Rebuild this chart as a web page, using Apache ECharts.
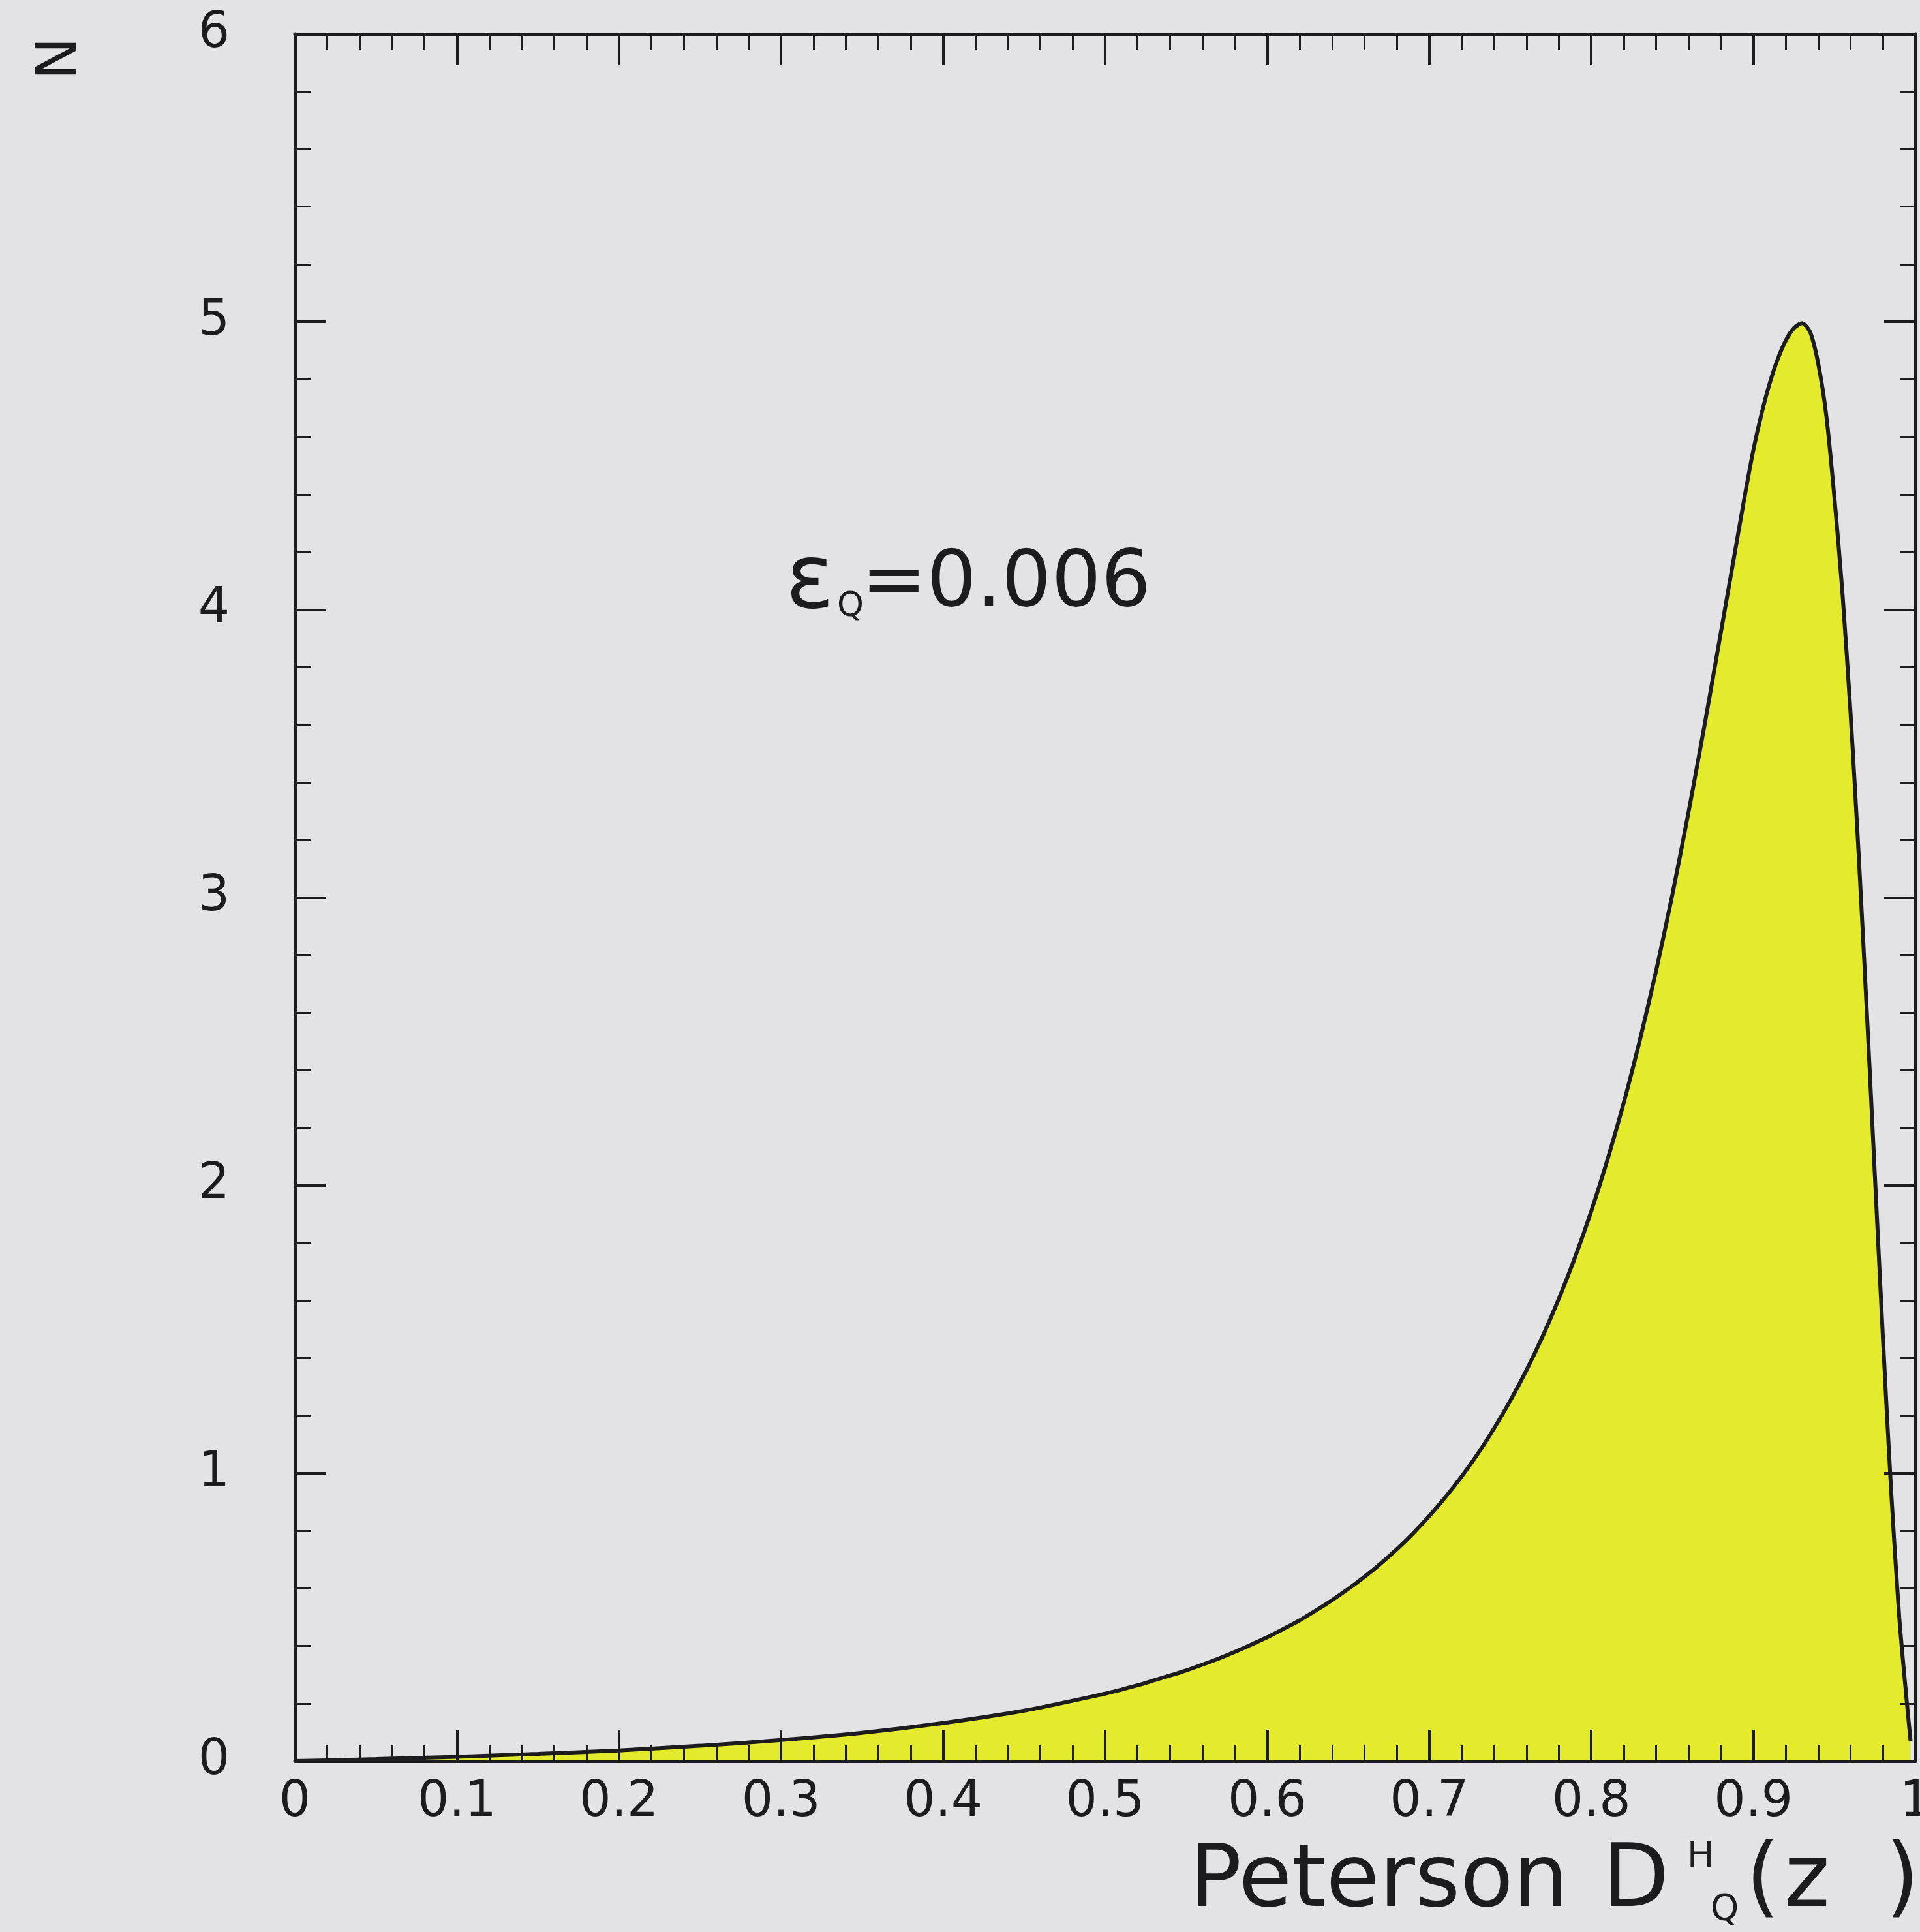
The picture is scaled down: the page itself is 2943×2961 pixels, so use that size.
<!DOCTYPE html>
<html>
<head>
<meta charset="utf-8">
<title>Peterson fragmentation function</title>
<script src="https://cdn.jsdelivr.net/npm/echarts/dist/echarts.min.js"></script>
<style>
  html, body { margin: 0; padding: 0; background: #e3e3e5; overflow: hidden; }
  #chart { width: 2943px; height: 2961px; }
</style>
</head>
<body>
<div id="chart"></div>
<script>
// Peterson fragmentation function D_Q^H(z), eps_Q = 0.006
const zValues = [0, 0.02, 0.05, 0.1, 0.15, 0.2, 0.25, 0.3, 0.35, 0.4, 0.45, 0.5,
  0.51, 0.52, 0.53, 0.54, 0.55, 0.56, 0.57, 0.58, 0.59, 0.6,
  0.61, 0.62, 0.63, 0.64, 0.65, 0.66, 0.67, 0.68, 0.69, 0.7,
  0.71, 0.72, 0.73, 0.74, 0.75, 0.76, 0.77, 0.78, 0.79, 0.8,
  0.81, 0.82, 0.83, 0.84, 0.85, 0.86, 0.87, 0.88, 0.89, 0.895, 0.9,
  0.905, 0.91, 0.915, 0.92, 0.925, 0.93, 0.935, 0.94, 0.945, 0.95,
  0.955, 0.96, 0.965, 0.97, 0.975, 0.98, 0.985, 0.99, 0.995, 0.997];
const dValues = [0, 0.0025, 0.0066, 0.015, 0.025, 0.037, 0.053, 0.073, 0.098, 0.132, 0.175, 0.234,
  0.248, 0.263, 0.280, 0.297, 0.315, 0.335, 0.356, 0.379, 0.404, 0.430,
  0.459, 0.489, 0.523, 0.559, 0.598, 0.640, 0.686, 0.736, 0.791, 0.851,
  0.917, 0.989, 1.068, 1.156, 1.252, 1.358, 1.476, 1.607, 1.751, 1.911,
  2.090, 2.287, 2.506, 2.746, 3.010, 3.297, 3.603, 3.923, 4.245, 4.405, 4.555,
  4.680, 4.785, 4.870, 4.935, 4.978, 4.995, 4.965, 4.855, 4.674, 4.390,
  4.055, 3.637, 3.147, 2.603, 2.030, 1.462, 0.938, 0.500, 0.185, 0.070];

const xTicks = [0, 0.1, 0.2, 0.3, 0.4, 0.5, 0.6, 0.7, 0.8, 0.9, 1];
const yTicks = [0, 1, 2, 3, 4, 5, 6];

const yAxisTitle = 'N';
const epsLabel = ['ε', 'Q', '=0.006'];
const xTitle = ['Peterson', 'D', 'H', 'Q', '(', 'z', ')'];

const FONT = 'DejaVu Sans';
const INK = '#1c1c1e';

const chart = echarts.init(document.getElementById('chart'), null, { renderer: 'canvas', width: 2943, height: 2961 });

function frameAxis(extra) {
  return Object.assign({
    type: 'value',
    z: 5,
    axisLine: { show: true, onZero: false, lineStyle: { color: INK, width: 5 } },
    axisTick: { show: true, inside: true, length: 48, lineStyle: { color: INK, width: 4 } },
    minorTick: { show: true, splitNumber: 5, length: 24, lineStyle: { color: INK, width: 3 } },
    splitLine: { show: false },
    minorSplitLine: { show: false }
  }, extra);
}

const labelStyle = { color: INK, fontFamily: FONT, fontSize: 76 };

function text(str, x, y, size, extra) {
  return Object.assign({
    type: 'text', x: x, y: y,
    style: { text: str, fontFamily: FONT, fontSize: size, fill: INK, align: 'left', verticalAlign: 'middle' }
  }, extra || {});
}

const option = {
  backgroundColor: '#e3e3e5',
  animation: false,
  grid: { left: 452, top: 52, right: 7, bottom: 262, containLabel: false, outerBoundsMode: 'none' },
  xAxis: [
    frameAxis({
      position: 'bottom',
      min: xTicks[0], max: xTicks[xTicks.length - 1], interval: xTicks[1] - xTicks[0],
      axisLabel: Object.assign({ show: true, margin: 26,
        formatter: v => String(parseFloat(v.toFixed(1))) }, labelStyle)
    }),
    frameAxis({
      position: 'top',
      min: xTicks[0], max: xTicks[xTicks.length - 1], interval: xTicks[1] - xTicks[0],
      axisLabel: { show: false }
    })
  ],
  yAxis: [
    frameAxis({
      position: 'left',
      min: yTicks[0], max: yTicks[yTicks.length - 1], interval: yTicks[1] - yTicks[0],
      axisLabel: Object.assign({ show: true, margin: 100 }, labelStyle)
    }),
    frameAxis({
      position: 'right',
      min: yTicks[0], max: yTicks[yTicks.length - 1], interval: yTicks[1] - yTicks[0],
      axisLabel: { show: false }
    })
  ],
  series: [{
    type: 'line',
    xAxisIndex: 0,
    yAxisIndex: 0,
    z: 2,
    data: zValues.map((z, i) => [z, dValues[i]]),
    showSymbol: false,
    smooth: 0.25,
    lineStyle: { color: INK, width: 6 },
    areaStyle: { color: '#e4ea2c', opacity: 1, origin: 'start' }
  }],
  graphic: [
    text(yAxisTitle, 94, 90, 88, { rotation: Math.PI / 2,
      style: { text: yAxisTitle, fontFamily: FONT, fontSize: 88, fill: INK, align: 'center', verticalAlign: 'middle' } }),
    text(epsLabel[0], 1204, 895, 138),
    text(epsLabel[1], 1283, 930, 52),
    text(epsLabel[2], 1320, 897, 120),
    text(xTitle[0], 1823, 2886, 133),
    text(xTitle[1], 2456, 2886, 133),
    text(xTitle[2], 2586, 2847, 55),
    text(xTitle[3], 2622, 2928, 55),
    text(xTitle[4], 2676, 2886, 133),
    text(xTitle[5], 2735, 2886, 133),
    text(xTitle[6], 2890, 2886, 133)
  ]
};

chart.setOption(option);
</script>
</body>
</html>
